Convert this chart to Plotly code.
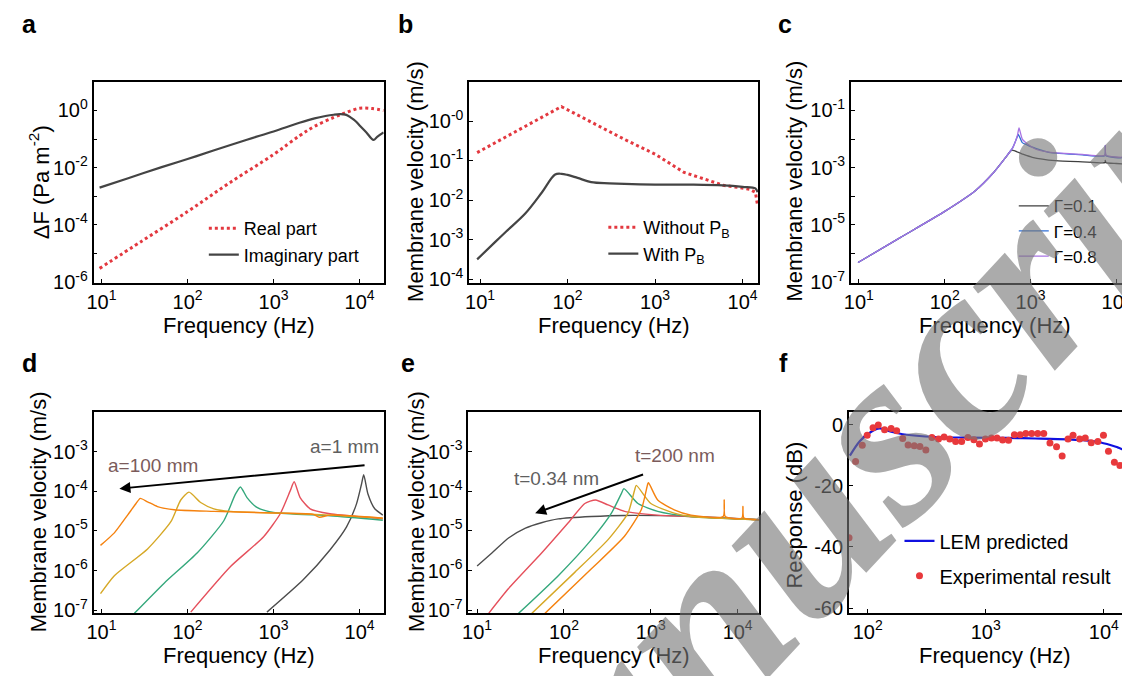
import plotly.graph_objects as go

W, H = 1130, 676
FONT = "Arial, Liberation Sans, sans-serif"

# ---------------- data ----------------
# (a) force difference
a_real_freq = [9.5, 30, 100, 300, 1000, 2000, 3000, 5000, 7000, 10000, 14000, 19000]
a_real_val = [3.0e-6, 2.8e-5, 2.9e-4, 2.8e-3, 0.029, 0.13, 0.28, 0.57, 0.85, 1.2, 1.17, 1.0]
a_imag_freq = [9.5, 20, 50, 100, 200, 500, 1000, 2000, 3000, 4000, 5000, 6000, 7000,
               8000, 9000, 10000, 12000, 14500, 16000, 19000]
a_imag_val = [0.002, 0.0042, 0.0104, 0.020, 0.040, 0.097, 0.185, 0.37, 0.53, 0.64, 0.71,
              0.74, 0.70, 0.55, 0.42, 0.30, 0.17, 0.093, 0.12, 0.17]

# (b) with / without back pressure
b_without_freq = [9.25, 20, 40, 60, 85, 120, 200, 447, 1000, 2140, 4000, 6000, 8000,
                  10000, 12000, 14000, 14800]
b_without_val = [0.162, 0.41, 0.95, 1.55, 2.37, 1.59, 0.88, 0.35, 0.148, 0.051, 0.0325,
                 0.024, 0.022, 0.020, 0.019, 0.016, 0.0076]
b_with_freq = [9.25, 15, 20, 33, 51, 72, 85, 100, 130, 186, 300, 447, 1000, 2750, 6000,
               10000, 14000, 14800]
b_with_val = [3.2e-4, 9.0e-4, 1.65e-3, 4.7e-3, 0.016, 0.045, 0.047, 0.044, 0.037, 0.029,
              0.027, 0.026, 0.025, 0.025, 0.024, 0.022, 0.020, 0.016]

# (c) damping ratio
c_g01_freq = [9.8, 30, 99, 229, 360, 513, 604, 800, 1047, 1950, 4000, 7300, 7400, 7550,
              10000, 18000]
c_g01_val = [4.8e-7, 3.5e-6, 2.9e-5, 1.6e-4, 6.1e-4, 2.3e-3, 4.1e-3, 3.0e-3, 2.3e-3,
             1.75e-3, 1.6e-3, 1.5e-3, 1.8e-3, 1.5e-3, 1.4e-3, 1.26e-3]
c_g04_freq = [9.8, 30, 99, 229, 360, 513, 620, 700, 720, 800, 955, 1300, 1630, 4000,
              7300, 7400, 7550, 12200, 12400, 12600, 18000]
c_g04_val = [4.8e-7, 3.5e-6, 2.9e-5, 1.6e-4, 6.1e-4, 2.3e-3, 5.0e-3, 0.012, 0.0145,
             7.5e-3, 5.8e-3, 4.2e-3, 3.4e-3, 2.8e-3, 2.6e-3, 5.8e-3, 2.6e-3, 2.3e-3,
             4.4e-3, 2.3e-3, 2.1e-3]
c_g08_freq = [9.8, 30, 99, 229, 360, 513, 620, 700, 733, 800, 955, 1150, 1630, 4000,
              7300, 7400, 7550, 12200, 12400, 12600, 18000]
c_g08_val = [4.8e-7, 3.5e-6, 2.9e-5, 1.6e-4, 6.1e-4, 2.3e-3, 5.0e-3, 0.013, 0.0245,
             0.010, 6.2e-3, 4.4e-3, 3.5e-3, 2.9e-3, 2.7e-3, 6.0e-3, 2.7e-3, 2.4e-3,
             4.5e-3, 2.4e-3, 2.2e-3]

# (d) membrane radius (a = 1 mm ... 100 mm)
d_a1_freq = [837, 2223, 4520, 7050, 9200, 10500, 11160, 12500, 15000, 18600]
d_a1_val = [8.9e-8, 5.9e-7, 3.3e-6, 1.26e-5, 4.8e-5, 1.48e-4, 2.6e-4, 8.5e-5, 3.6e-5, 2.5e-5]
d_a2_freq = [109, 316, 766, 1195, 1560, 1734, 2036, 2656, 4520, 15000, 18600]
d_a2_val = [8.9e-8, 1.26e-6, 7.1e-6, 2.7e-5, 1.02e-4, 1.73e-4, 6.9e-5, 3.6e-5, 2.7e-5,
            2.1e-5, 2.0e-5]
d_a3_freq = [24.1, 53.5, 130, 264, 360, 412, 491, 641, 1000, 4520, 18600]
d_a3_val = [8.3e-8, 4.8e-7, 2.8e-6, 1.8e-5, 8.4e-5, 1.28e-4, 6.9e-5, 3.9e-5, 2.9e-5,
            2.4e-5, 1.85e-5]
d_a4_freq = [9.73, 14.1, 34.3, 64, 83.4, 104, 142, 202, 316, 1200, 4520, 18600]
d_a4_val = [2.6e-7, 7.4e-7, 3.5e-6, 1.7e-5, 6.0e-5, 9.5e-5, 5.2e-5, 3.6e-5, 3.1e-5,
            2.8e-5, 2.5e-5, 2.1e-5]
d_a5_freq = [9.73, 14.1, 20.1, 25.2, 28.2, 34.3, 44.7, 69.8, 202, 1200, 2900, 3400, 4520,
             18600]
d_a5_val = [4.3e-6, 8.9e-6, 2.5e-5, 4.9e-5, 6.6e-5, 5.4e-5, 4.1e-5, 3.4e-5, 3.1e-5,
            2.8e-5, 2.6e-5, 2.2e-5, 2.5e-5, 2.1e-5]

# (e) membrane thickness (t = 0.34 nm ... 200 nm)
e_t1_freq = [10, 14.9, 23, 36, 55, 86, 207, 500, 2900, 17600]
e_t1_val = [1.3e-6, 2.8e-6, 6.6e-6, 1.17e-5, 1.6e-5, 2.0e-5, 2.3e-5, 2.45e-5, 2.3e-5, 1.9e-5]
e_t2_freq = [13.6, 23, 55.6, 112, 174, 231, 322, 500, 1200, 2900, 17600]
e_t2_val = [8.3e-8, 3.5e-7, 2.8e-6, 1.6e-5, 4.9e-5, 6.0e-5, 4.5e-5, 3.1e-5, 2.5e-5,
            2.3e-5, 1.9e-5]
e_t3_freq = [30, 86, 207, 352, 458, 490, 711, 1200, 2900, 17600]
e_t3_val = [8.3e-8, 7.4e-7, 6.0e-6, 2.8e-5, 8.7e-5, 1.16e-4, 4.9e-5, 3.1e-5, 2.3e-5, 1.9e-5]
e_t4_freq = [42.7, 134, 322, 546, 650, 680, 1000, 1860, 2900, 17600]
e_t4_val = [8.3e-8, 9.1e-7, 6.0e-6, 2.8e-5, 1.06e-4, 1.4e-4, 4.9e-5, 2.8e-5, 2.3e-5, 1.9e-5]
e_t5_freq = [60.5, 207, 500, 776, 925, 942, 1200, 1860, 2900, 6800, 7000, 7200, 11200,
             11500, 11800, 17600]
e_t5_val = [8.3e-8, 1.1e-6, 7.4e-6, 3.4e-5, 1.55e-4, 1.63e-4, 6.0e-5, 3.4e-5, 2.5e-5,
            2.3e-5, 6.0e-5, 2.3e-5, 2.1e-5, 4.1e-5, 2.1e-5, 1.9e-5]

# (f) LEM vs experiment
f_lem_freq = [70.7, 86, 104, 126, 158, 198, 377, 720, 1500, 2620, 5000, 7000, 9440,
              13100, 15800, 19300]
f_lem_db = [-10.1, -5.3, -2.6, -1.2, -2.3, -3.1, -4.0, -4.2, -4.3, -4.5, -4.8, -5.1,
            -5.8, -7.4, -8.5, -8.0]
f_exp_freq = [69.5, 79, 90, 99, 111, 123, 139, 158, 176, 198, 220, 248, 277, 311, 350, 398,
              444, 496, 556, 625, 706, 794, 885, 994, 1118, 1246, 1390, 1560, 1750, 1958,
              2183, 2450, 2757, 3100, 3500, 3980, 4440, 4980, 5490, 6250, 6970, 7830, 8910,
              9940, 10960, 12300, 13700, 15700, 17700, 19300]
f_exp_db = [-37, -12.0, -6.7, -3.4, -1.0, -0.1, -1.6, -1.2, -2.0, -4.5, -6.6, -6.9, -7.1,
            -8.3, -4.2, -4.7, -4.0, -4.7, -5.5, -5.5, -4.2, -4.9, -6.3, -4.7, -4.3, -4.3,
            -5.0, -5.1, -3.3, -3.3, -2.9, -2.9, -2.9, -2.9, -6.0, -7.2, -10.2, -4.7, -3.4,
            -4.7, -4.3, -5.9, -5.5, -3.4, -8.7, -12.3, -13.3, -8.7, -5.5, -12.6]

# ---------------- styles ----------------
RED = "#e3383f"
DARK = "#444444"
C_BLACK, C_BLUE, C_PURPLE = "#3f3f3f", "#2f6fd6", "#a773e3"
D_GRAY, D_RED, D_GREEN, D_GOLD, D_ORANGE = "#4d4d4d", "#e5505c", "#35a87c", "#d6a826", "#f5820f"

fig = go.Figure()


def dx(x0, x1):
    return [x0 / W, x1 / W]


def dy(y0, y1):
    return [1 - y1 / H, 1 - y0 / H]


def line(x, y, color, width, xa, ya, name=None, dash="solid", legend=None, shape="linear",
         smoothing=1.0):
    fig.add_trace(go.Scatter(
        x=x, y=y, mode="lines", name=name, xaxis=xa, yaxis=ya,
        line=dict(color=color, width=width, dash=dash, shape=shape, smoothing=smoothing),
        showlegend=name is not None, legend=legend, legendgroup=name))


# (a)
line(a_real_freq, a_real_val, RED, 3, "x", "y", "Real part", "3px,3px", "legend", "spline")
line(a_imag_freq, a_imag_val, DARK, 2.2, "x", "y", "Imaginary part", "solid", "legend", "spline")
# (b)
line(b_without_freq, b_without_val, RED, 3, "x2", "y2", "Without P<sub>B</sub>", "3px,3px", "legend2")
line(b_with_freq, b_with_val, DARK, 2.2, "x2", "y2", "With P<sub>B</sub>", "solid", "legend2", "spline")
# (c)
line(c_g01_freq, c_g01_val, C_BLACK, 1.3, "x3", "y3", "Γ=0.1", "solid", "legend3", "spline", 0.5)
line(c_g04_freq, c_g04_val, C_BLUE, 1.3, "x3", "y3", "Γ=0.4", "solid", "legend3", "spline", 0.5)
line(c_g08_freq, c_g08_val, C_PURPLE, 1.3, "x3", "y3", "Γ=0.8", "solid", "legend3", "spline", 0.5)
# (d)
for fr, vv, col in [(d_a1_freq, d_a1_val, D_GRAY), (d_a2_freq, d_a2_val, D_RED),
                    (d_a3_freq, d_a3_val, D_GREEN), (d_a4_freq, d_a4_val, D_GOLD),
                    (d_a5_freq, d_a5_val, D_ORANGE)]:
    line(fr, vv, col, 1.4, "x4", "y4", shape="spline", smoothing=0.6)
# (e)
for fr, vv, col in [(e_t1_freq, e_t1_val, D_GRAY), (e_t2_freq, e_t2_val, D_RED),
                    (e_t3_freq, e_t3_val, D_GREEN), (e_t4_freq, e_t4_val, D_GOLD),
                    (e_t5_freq, e_t5_val, D_ORANGE)]:
    line(fr, vv, col, 1.4, "x5", "y5", shape="spline", smoothing=0.6)
# (f)
fig.add_trace(go.Scatter(x=f_lem_freq, y=f_lem_db, mode="lines", name="LEM predicted",
                         xaxis="x6", yaxis="y6", line=dict(color="#1010e0", width=2.2, shape="spline"),
                         legend="legend4", legendgroup="lem"))
fig.add_trace(go.Scatter(x=f_exp_freq, y=f_exp_db, mode="markers", name="Experimental result",
                         xaxis="x6", yaxis="y6", marker=dict(color="#e8393c", size=7),
                         legend="legend4", legendgroup="exp"))

# ---------------- axes ----------------
base = dict(showgrid=False, zeroline=False, showline=True, linecolor="black", linewidth=1.5,
            ticks="inside", ticklen=4, tickwidth=1.2, tickcolor="black",
            tickfont=dict(size=20, color="black", family=FONT), tickmode="array",
            ticklabeloverflow="allow")


def logticks(exps, labeled=None):
    vals = [10.0 ** e for e in exps]
    txt = ["10<sup>%d</sup>" % e if (labeled is None or e in labeled) else "" for e in exps]
    return vals, txt


def xlog(dom, rng, anchor, exps=(1, 2, 3, 4), mirror=True):
    v, t = logticks(list(exps))
    return dict(base, type="log", domain=dom, range=rng, anchor=anchor,
                tickvals=v, ticktext=t, mirror=mirror)


def ylog(dom, rng, anchor, exps, labeled=None, mirror=True):
    v, t = logticks(exps, labeled)
    return dict(base, type="log", domain=dom, range=rng, anchor=anchor,
                tickvals=v, ticktext=t, mirror=mirror)


top = dy(75, 279)
bot = dy(410, 614)
fig.update_layout(
    xaxis=xlog(dx(79, 371), [0.907, 4.28], "y"),
    yaxis=ylog(top, [-6.03, 1.0], "x", [1, 0, -1, -2, -3, -4, -5, -6], [0, -2, -4, -6]),
    xaxis2=xlog(dx(457, 748), [0.875, 4.18], "y2"),
    yaxis2=ylog(top, [-4.09, 1.0], "x2", [0, -1, -2, -3, -4]),
    xaxis3=xlog(dx(841, 1130), [0.907, 4.25], "y3"),
    yaxis3=ylog(top, [-7.03, 0.0], "x3", [-1, -2, -3, -4, -5, -6, -7], [-1, -3, -5, -7],
                mirror=False),
    xaxis4=xlog(dx(79, 371), [0.907, 4.28], "y4"),
    yaxis4=ylog(bot, [-7.07, -2.0], "x4", [-3, -4, -5, -6, -7]),
    xaxis5=xlog(dx(456, 749), [0.897, 4.25], "y5"),
    yaxis5=ylog(bot, [-7.07, -2.0], "x5", [-3, -4, -5, -6, -7]),
    xaxis6=xlog(dx(839, 1130), [1.84, 4.29], "y6", (2, 3, 4)),
    yaxis6=dict(base, type="linear", domain=bot, range=[-61.6, 4.2], anchor="x6",
                tickvals=[0, -20, -40, -60], ticktext=["0", "-20", "-40", "-60"], mirror=False),
)
# panel b tick labels are printed as "10-0", "10-1", ...
fig.layout.yaxis2.ticktext = ["10<sup>-0</sup>", "10<sup>-1</sup>", "10<sup>-2</sup>",
                              "10<sup>-3</sup>", "10<sup>-4</sup>"]

legfont = dict(family=FONT, color="black")
fig.update_layout(
    legend=dict(x=190 / W, y=1 - 205 / H, xanchor="left", yanchor="top", bgcolor="rgba(0,0,0,0)",
                font=dict(legfont, size=18), tracegroupgap=0),
    legend2=dict(x=592 / W, y=1 - 204 / H, xanchor="left", yanchor="top", bgcolor="rgba(0,0,0,0)",
                 font=dict(legfont, size=18), tracegroupgap=0),
    legend3=dict(x=1005 / W, y=1 - 183 / H, xanchor="left", yanchor="top", bgcolor="rgba(0,0,0,0)",
                 font=dict(legfont, size=17), tracegroupgap=0),
    legend4=dict(x=890 / W, y=1 - 521 / H, xanchor="left", yanchor="top", bgcolor="rgba(0,0,0,0)",
                 font=dict(legfont, size=20), tracegroupgap=6),
)

ann = []
# panel letters
for lab, x, y in [("a", 15, 16), ("b", 393, 16), ("c", 775, 16),
                  ("d", 15, 360), ("e", 395, 360), ("f", 773, 360)]:
    ann.append(dict(text="<b>%s</b>" % lab, x=x / W, y=1 - y / H, xref="paper", yref="paper",
                    xanchor="center", yanchor="middle", showarrow=False,
                    font=dict(size=25, family=FONT, color="black")))
# axis titles
for x in (225, 603, 986):
    for y in (322, 657):
        ann.append(dict(text="Frequency (Hz)", x=x / W, y=1 - y / H, xref="paper", yref="paper",
                        xanchor="center", yanchor="middle", showarrow=False,
                        font=dict(size=22, family=FONT, color="black")))
for txt, x, y in [("ΔF (Pa m<sup>-2</sup>)", 25, 177), ("Membrane velocity (m/s)", 403, 176),
                  ("Membrane velocity (m/s)", 784, 176), ("Membrane velocity (m/s)", 24, 511),
                  ("Membrane velocity (m/s)", 404, 511), ("Response (dB)", 784, 515)]:
    ann.append(dict(text=txt, x=x / W, y=1 - y / H, xref="paper", yref="paper",
                    xanchor="center", yanchor="middle", showarrow=False, textangle=-90,
                    font=dict(size=22, family=FONT, color="black")))
# arrows and labels (d)
ann.append(dict(x=1.208, y=-3.935, ax=4.075, ay=-3.34, xref="x4", yref="y4", axref="x4",
                ayref="y4", showarrow=True, arrowhead=2, arrowsize=1.1, arrowwidth=2,
                arrowcolor="black", text=""))
ann.append(dict(x=1.60, y=-3.35, xref="x4", yref="y4", text="a=100 mm", showarrow=False,
                font=dict(size=19, family=FONT, color="#7b5b5b")))
ann.append(dict(x=3.82, y=-2.88, xref="x4", yref="y4", text="a=1 mm", showarrow=False,
                font=dict(size=19, family=FONT, color="#5f5f5f")))
# arrows and labels (e)
ann.append(dict(x=1.668, y=-4.556, ax=2.928, ay=-3.563, xref="x5", yref="y5", axref="x5",
                ayref="y5", showarrow=True, arrowhead=2, arrowsize=1.1, arrowwidth=2,
                arrowcolor="black", text=""))
ann.append(dict(x=3.28, y=-3.107, xref="x5", yref="y5", text="t=200 nm", showarrow=False,
                font=dict(size=19, family=FONT, color="#7b5b5b")))
ann.append(dict(x=1.916, y=-3.687, xref="x5", yref="y5", text="t=0.34 nm", showarrow=False,
                font=dict(size=19, family=FONT, color="#5f5f5f")))
# watermark
ann.append(dict(text="Manuscript", x=815 / W, y=1 - 490 / H, xref="paper", yref="paper",
                xanchor="center", yanchor="middle", showarrow=False, textangle=-47,
                font=dict(size=255, family="Liberation Serif, DejaVu Serif, serif",
                          color="rgba(120,120,120,0.62)", style="italic", weight="bold")))

fig.update_layout(annotations=ann, width=W, height=H, margin=dict(l=0, r=0, t=0, b=0),
                  paper_bgcolor="white", plot_bgcolor="white",
                  font=dict(family=FONT, color="black"))

fig.write_html("out.html")
